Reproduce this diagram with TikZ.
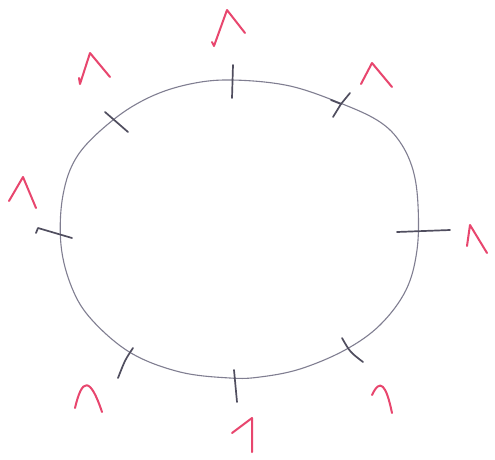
\documentclass[tikz,border=0pt]{standalone}
\begin{document}
\begin{tikzpicture}[x=1pt,y=-1pt,
  loop/.style={draw=curvecol,line width=1.1pt},
  tick/.style={draw=tickcol,line width=1.7pt,line cap=round,line join=round},
  caret/.style={draw=caretcol,line width=2pt,line cap=round,line join=round}]
\definecolor{curvecol}{RGB}{128,126,145}
\definecolor{tickcol}{RGB}{80,78,95}
\definecolor{caretcol}{RGB}{232,70,110}
\useasboundingbox[fill=white] (0,0) rectangle (495,459);
% closed curve
\draw[loop] plot[smooth cycle,tension=0.6] coordinates {
 (232,80) (290,86) (345,105) (380,122) (400,142) (413,170) (418,205) (417,250)
 (406,290) (380,325) (345,350) (300,369) (260,377) (230,378) (180,372) (131,353)
 (92,320) (72,288) (61,245) (63,195) (78,155) (113,120) (150,97) (190,84)};
% ticks
\draw[tick] (233,65) -- (232,98);
\draw[tick] (350,93) -- (341,104) -- (333,117);
\draw[tick] (331,100) -- (341,104);
\draw[tick] (105,112) -- (128,132);
\draw[tick] (36,233) -- (38,228) -- (72,238);
\draw[tick] (397,232) -- (450,230);
\draw[tick] (133,348) .. controls (125,360) .. (118,378);
\draw[tick] (234,370) -- (237,402);
\draw[tick] (342,338) .. controls (350,352) .. (363,362);
% carets
\draw[caret] (212,42) -- (214,46) -- (227,10) -- (245,33);
\draw[caret] (361,84) -- (372,63) -- (392,87);
\draw[caret] (9,201) -- (23,177) -- (36,208);
\draw[caret] (467,246) -- (470,225) -- (487,253);
\draw[caret] (75,408) .. controls (82,378) and (90,376) .. (102,412);
\draw[caret] (232,433) -- (252,418) -- (252,452);
\draw[caret] (372,395) .. controls (380,378) and (386,384) .. (392,413);
\draw[caret] (79,78) -- (80,84) -- (90,53) -- (110,77);
\end{tikzpicture}
\end{document}
